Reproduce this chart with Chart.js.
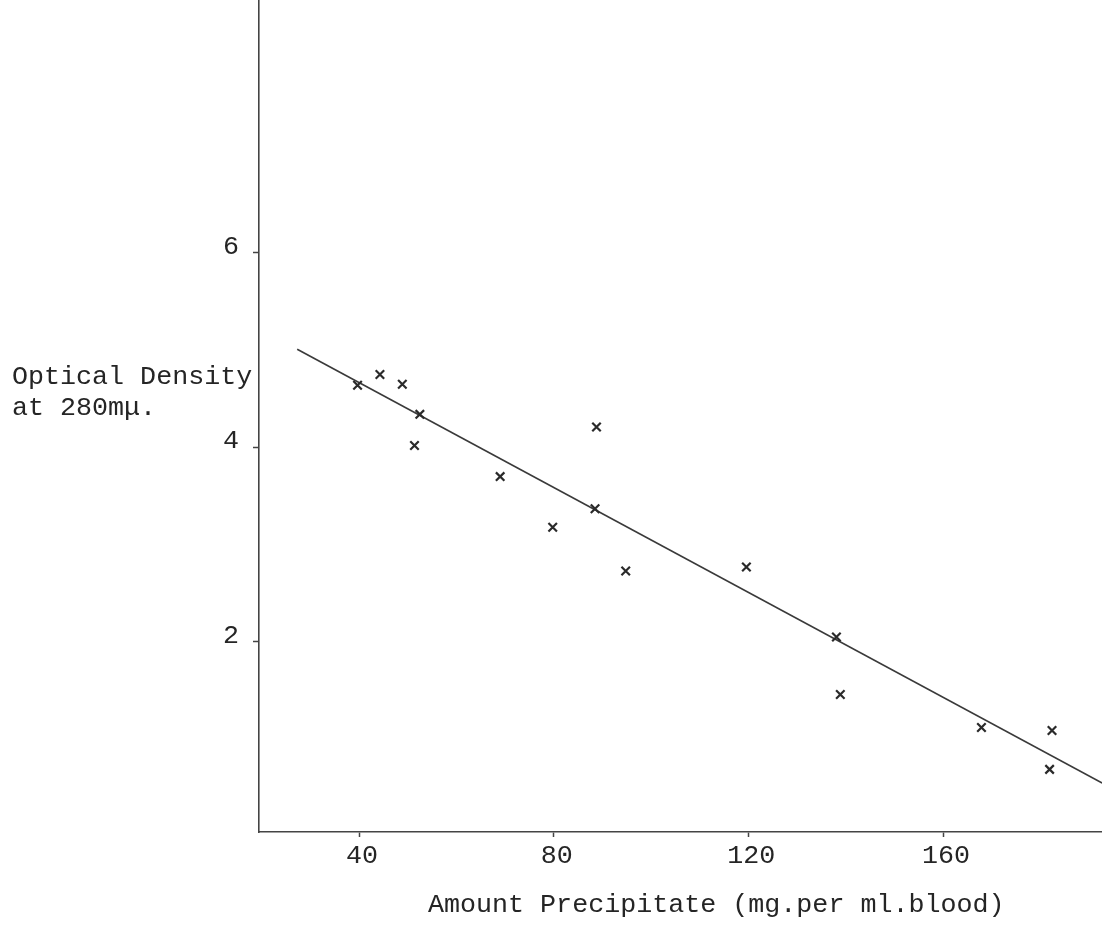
<!DOCTYPE html>
<html lang="en">
<head>
  <meta charset="UTF-8">
  <title>Optical Density vs Amount Precipitate</title>
  <script src="https://cdn.jsdelivr.net/npm/chart.js"></script>
  <style>
    html, body { margin: 0; padding: 0; background: #fff; }
    canvas { display: block; }
  </style>
</head>
<body>
  <canvas id="density-chart" width="1102" height="926"></canvas>

  <script>
    // Measured samples: precipitate (mg per ml blood) and optical density at 280mμ
    const precipitate = [39.7, 44.3, 48.9, 52.5, 51.4, 69.0, 79.8, 88.8, 88.5, 94.8, 119.6, 138.1, 138.9, 167.9, 182.4, 181.9];
    const density     = [4.64, 4.75, 4.65, 4.34, 4.02, 3.70, 3.18, 4.21, 3.37, 2.73, 2.77, 2.05, 1.46, 1.12, 1.09, 0.69];

    // Fitted straight line, two end points
    const fitX = [27.3, 192.7];
    const fitY = [5.01, 0.55];

    // Axis ticks
    const xTicks = [40, 80, 120, 160];
    const yTicks = [2, 4, 6];

    const ink = "#252525";
    const typeFont = "'Liberation Mono', 'Courier New', monospace";
    const typeSize = 26.7;

    // Axis captions, typed flat: y caption left of the axis, x caption under the ticks
    const captions = {
      id: "captions",
      afterDraw(chart) {
        const ctx = chart.ctx;
        ctx.save();
        ctx.font = typeSize + "px " + typeFont;
        ctx.fillStyle = ink;
        ctx.textBaseline = "alphabetic";
        ctx.fillText("Optical Density", 12, 384);
        ctx.fillText("at 280mμ.", 12, 415);
        ctx.fillText("Amount Precipitate (mg.per ml.blood)", 428, 912);
        ctx.restore();
      }
    };

    new Chart(document.getElementById("density-chart"), {
      data: {
        datasets: [
          {
            type: "scatter",
            data: precipitate.map((x, i) => ({ x, y: density[i] })),
            pointStyle: "crossRot",
            pointRadius: 6,
            pointBorderWidth: 2.2,
            borderColor: "#2a2a2a",
            backgroundColor: "#2a2a2a"
          },
          {
            type: "line",
            data: fitX.map((x, i) => ({ x, y: fitY[i] })),
            borderColor: "#3a3a3a",
            borderWidth: 1.6,
            pointRadius: 0
          }
        ]
      },
      options: {
        responsive: false,
        animation: false,
        layout: { padding: 0, autoPadding: false },
        plugins: {
          legend: { display: false },
          tooltip: { enabled: false }
        },
        scales: {
          x: {
            type: "linear",
            min: 19.45,
            max: 192.67,
            afterBuildTicks: s => { s.ticks = xTicks.map(v => ({ value: v })); },
            afterFit: s => {
              s.height = 94;
              s.paddingLeft = 0;
              s.paddingRight = 0;
            },
            border: { display: true, color: "#444", width: 1.6 },
            grid: { drawOnChartArea: false, tickLength: 5, color: "#444", tickWidth: 1.5 },
            ticks: {
              padding: 3,
              labelOffset: 3,
              color: ink,
              font: { family: typeFont, size: typeSize }
            }
          },
          y: {
            type: "linear",
            min: 0.046,
            max: 8.6,
            afterBuildTicks: s => { s.ticks = yTicks.map(v => ({ value: v })); },
            afterFit: s => {
              s.width = 259;
              s.paddingTop = 0;
              s.paddingBottom = 0;
            },
            border: { display: true, color: "#444", width: 1.6 },
            grid: { drawOnChartArea: false, tickLength: 6, color: "#444", tickWidth: 1.5 },
            ticks: {
              padding: 14,
              labelOffset: -6,
              color: ink,
              font: { family: typeFont, size: typeSize }
            }
          }
        }
      },
      plugins: [captions]
    });
  </script>
</body>
</html>
